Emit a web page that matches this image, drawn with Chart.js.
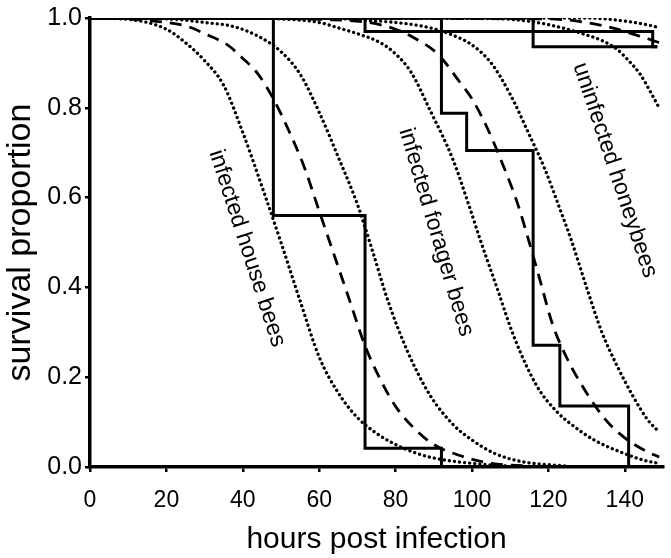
<!DOCTYPE html>
<html>
<head>
<meta charset="utf-8">
<script src="https://cdn.jsdelivr.net/npm/chart.js@4.4.1/dist/chart.umd.min.js"></script>
<style>
  html, body { margin: 0; padding: 0; background: #fff; }
  #wrap { width: 671px; height: 558px; position: relative; }
</style>
</head>
<body>
<div id="wrap"><canvas id="chart"></canvas></div>
<script>
// Kaplan-Meier steps (hours, survival proportion)
const houseKmHours = [0, 48, 72, 92];
const houseKmSurv = [1, 0.56, 0.042, 0];
const foragerKmHours = [0, 92, 98.6, 116, 123, 141];
const foragerKmSurv = [1, 0.788, 0.705, 0.271, 0.136, 0];
const uninfKmAHours = [0, 72, 147.3, 148.5];
const uninfKmASurv = [1, 0.97, 0.936, 0.936];
const uninfKmBHours = [0, 116, 148.5];
const uninfKmBSurv = [1, 0.936, 0.936];

// fitted curves (dashed) and their bounds (dotted)
const houseLoHours = [0, 10, 20, 25, 30, 35, 40, 45, 50, 55, 60, 65, 70, 75, 80, 85, 90, 100, 110];
const houseLoSurv = [1, 0.997, 0.975, 0.945, 0.905, 0.85, 0.745, 0.625, 0.5, 0.37, 0.245, 0.165, 0.11, 0.075, 0.05, 0.032, 0.02, 0.008, 0.002];
const houseFitHours = [0, 10, 20, 26, 30, 36, 40, 44, 48, 52, 56, 60, 64, 68, 72, 76, 80, 85, 90, 97, 105, 115];
const houseFitSurv = [1, 0.998, 0.99, 0.98, 0.965, 0.94, 0.91, 0.875, 0.82, 0.75, 0.67, 0.57, 0.47, 0.37, 0.27, 0.195, 0.135, 0.085, 0.05, 0.025, 0.008, 0.002];
const houseHiHours = [0, 20, 30, 38, 45, 50, 55, 60, 65, 70, 74, 78, 83, 89, 95, 100, 106, 113, 125];
const houseHiSurv = [1, 0.998, 0.99, 0.98, 0.955, 0.925, 0.875, 0.79, 0.69, 0.585, 0.48, 0.37, 0.26, 0.16, 0.095, 0.06, 0.03, 0.012, 0.002];

const foragerLoHours = [0, 40, 50, 60, 65, 70, 76, 80, 84, 89, 95, 99.5, 102, 106.5, 111, 117, 122, 126, 132, 139, 145, 149];
const foragerLoSurv = [1, 1, 0.998, 0.99, 0.978, 0.965, 0.945, 0.92, 0.88, 0.795, 0.685, 0.575, 0.51, 0.4, 0.29, 0.18, 0.125, 0.095, 0.06, 0.033, 0.015, 0.008];
const foragerFitHours = [0, 50, 60, 73, 80, 85, 91, 97, 100, 104, 108, 112, 115, 118, 121, 125, 130, 135, 140, 145, 149];
const foragerFitSurv = [1, 0.999, 0.997, 0.99, 0.975, 0.955, 0.92, 0.855, 0.82, 0.755, 0.675, 0.585, 0.5, 0.41, 0.32, 0.24, 0.165, 0.105, 0.065, 0.038, 0.022];
const foragerHiHours = [0, 60, 72, 80, 88, 94, 100, 105, 110, 115, 119, 123, 126, 130, 134, 138, 142, 146, 149];
const foragerHiSurv = [1, 1, 0.995, 0.99, 0.98, 0.965, 0.94, 0.9, 0.83, 0.74, 0.665, 0.575, 0.505, 0.4, 0.3, 0.225, 0.16, 0.105, 0.078];

const uninfLoHours = [0, 100, 110, 117, 125, 130, 134, 138, 141, 144, 147.4, 149];
const uninfLoSurv = [1, 0.999, 0.997, 0.99, 0.975, 0.962, 0.95, 0.93, 0.905, 0.875, 0.825, 0.8];
const uninfFitHours = [0, 120, 130, 138, 143, 147, 149];
const uninfFitSurv = [1, 0.998, 0.99, 0.975, 0.962, 0.951, 0.945];
const uninfHiHours = [0, 130, 140, 147.4, 149];
const uninfHiSurv = [1, 1, 0.993, 0.982, 0.978];

const xTicks = [0, 20, 40, 60, 80, 100, 120, 140];
const yTicks = [0, 0.2, 0.4, 0.6, 0.8, 1.0];

const FONT = "'Liberation Sans', Arial, sans-serif";

function pts(hours, surv) {
  return hours.map((h, i) => ({ x: h, y: surv[i] }));
}

const km = (h, s) => ({
  data: pts(h, s), borderColor: '#000', borderWidth: 3,
  stepped: 'before', pointRadius: 0, fill: false
});
const fit = (h, s) => ({
  data: pts(h, s), borderColor: '#000', borderWidth: 2.8,
  borderDash: [12, 8], cubicInterpolationMode: 'monotone', pointRadius: 0, fill: false
});
const bound = (h, s) => ({
  data: pts(h, s), borderColor: '#000', borderWidth: 3.3,
  borderDash: [0.1, 5], borderCapStyle: 'round',
  cubicInterpolationMode: 'monotone', pointRadius: 0, fill: false
});

// rotated curve labels (placed in data units)
const curveLabels = [
  { text: 'infected house bees', x: 41.1, y: 0.487, angle: 72 },
  { text: 'infected forager bees', x: 90.6, y: 0.523, angle: 73.5 },
  { text: 'uninfected honeybees', x: 137.4, y: 0.661, angle: 71.5 }
];

const labelPlugin = {
  id: 'curveLabels',
  afterDatasetsDraw(chart) {
    const { ctx, scales: { x, y } } = chart;
    ctx.save();
    ctx.fillStyle = '#000';
    ctx.font = '23px ' + FONT;
    ctx.textAlign = 'center';
    ctx.textBaseline = 'middle';
    curveLabels.forEach(l => {
      ctx.save();
      ctx.translate(x.getPixelForValue(l.x), y.getPixelForValue(l.y));
      ctx.rotate(l.angle * Math.PI / 180);
      ctx.fillText(l.text, 0, 0);
      ctx.restore();
    });
    ctx.restore();
  }
};

new Chart(document.getElementById('chart'), {
  type: 'line',
  data: {
    datasets: [
      km(houseKmHours, houseKmSurv),
      km(foragerKmHours, foragerKmSurv),
      km(uninfKmAHours, uninfKmASurv),
      km(uninfKmBHours, uninfKmBSurv),
      bound(houseLoHours, houseLoSurv),
      fit(houseFitHours, houseFitSurv),
      bound(houseHiHours, houseHiSurv),
      bound(foragerLoHours, foragerLoSurv),
      fit(foragerFitHours, foragerFitSurv),
      bound(foragerHiHours, foragerHiSurv),
      bound(uninfLoHours, uninfLoSurv),
      fit(uninfFitHours, uninfFitSurv),
      bound(uninfHiHours, uninfHiSurv)
    ]
  },
  options: {
    responsive: true,
    maintainAspectRatio: false,
    animation: false,
    layout: { padding: { top: 14, right: 8, left: 0, bottom: 0 } },
    plugins: { legend: { display: false }, tooltip: { enabled: false } },
    scales: {
      x: {
        type: 'linear', min: 0, max: 150,
        border: { color: '#000', width: 3.5 },
        grid: { drawOnChartArea: false, color: '#000', lineWidth: 2.5, tickLength: 5 },
        afterBuildTicks: s => { s.ticks = xTicks.map(v => ({ value: v })); },
        afterFit: s => { s.height = 91; },
        ticks: { color: '#000', font: { size: 23, family: FONT }, padding: 15, maxRotation: 0 },
        title: { display: true, text: 'hours post infection', color: '#000',
                 font: { size: 30, family: FONT }, padding: { top: 0, bottom: 0 } }
      },
      y: {
        type: 'linear', min: 0, max: 1,
        border: { color: '#000', width: 3.5 },
        grid: { drawOnChartArea: false, color: '#000', lineWidth: 2.5, tickLength: 5 },
        afterBuildTicks: s => { s.ticks = yTicks.map(v => ({ value: v })); },
        afterFit: s => { s.width = 90; },
        ticks: { color: '#000', font: { size: 25, family: FONT }, padding: 3,
                 callback: v => v.toFixed(1) },
        title: { display: true, text: 'survival proportion', color: '#000',
                 font: { size: 34, family: FONT }, padding: { top: 0, bottom: 0 } }
      }
    }
  },
  plugins: [labelPlugin]
});
</script>
</body>
</html>
